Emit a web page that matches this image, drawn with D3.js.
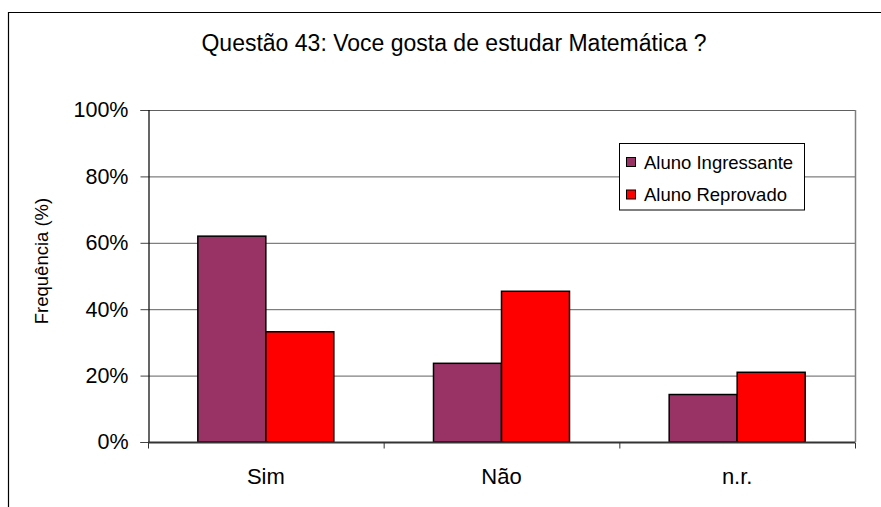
<!DOCTYPE html>
<html><head><meta charset="utf-8">
<script src="https://cdn.jsdelivr.net/npm/d3@7"></script>
<style>body{margin:0;background:#fff}svg{display:block}text{font-family:"Liberation Sans",Arial,sans-serif;fill:#000}</style>
</head><body>
<svg id="c" width="881" height="507"></svg>
<script>
const categories = ["Sim", "Não", "n.r."];
const seriesNames = ["Aluno Ingressante", "Aluno Reprovado"];
const ingressante = [62.0, 23.7, 14.3];
const reprovado = [33.2, 45.4, 21.0];
const yTicks = [0, 20, 40, 60, 80, 100];
const colors = ["#993366", "#FF0000"];
const title = "Questão 43: Voce gosta de estudar Matemática ?";
const yLabel = "Frequência (%)";

const series = [ingressante, reprovado];
const svg = d3.select("#c");
const W = 881, H = 507;
const L = 148, R = 855, T = 110, B = 442;

// outer chart border (top and left visible)
svg.append("path").attr("d", `M8.5,${H} V12.5 H${W}`).attr("fill","none").attr("stroke","#000").attr("stroke-width",1.2);

const x0 = d3.scaleBand().domain(categories).range([L, R]).padding(0);
const x1 = d3.scaleBand().domain(seriesNames).range([0, x0.bandwidth()]).paddingInner(0).paddingOuter(0.733);
const y = d3.scaleLinear().domain([0, 100]).range([B, T]);

// gridlines
svg.append("g").selectAll("line").data(yTicks.filter(d=>d>0)).join("line")
  .attr("x1", L).attr("x2", R).attr("y1", d=>y(d)+0.5).attr("y2", d=>y(d)+0.5)
  .attr("stroke", "#606060").attr("stroke-width", 1);
// plot right border
svg.append("line").attr("x1", R+0.5).attr("x2", R+0.5).attr("y1", T).attr("y2", B)
  .attr("stroke", "#808080").attr("stroke-width", 1.5);

// bars
const groups = svg.append("g").selectAll("g").data(categories).join("g")
  .attr("transform", d => `translate(${x0(d)},0)`);
groups.selectAll("rect").data((c, i) => seriesNames.map((s, j) => ({s, v: series[j][i], j})))
  .join("rect")
  .attr("x", d => x1(d.s)).attr("width", x1.bandwidth())
  .attr("y", d => y(d.v)).attr("height", d => B - y(d.v))
  .attr("fill", d => colors[d.j]).attr("stroke", "#000").attr("stroke-width", 1.5);

// y axis
const yAxis = d3.axisLeft(y).tickValues(yTicks).tickFormat(d => d + "%").tickSize(8).tickPadding(12);
const ya = svg.append("g").attr("transform", `translate(${L+0.5},0)`).call(yAxis);
ya.select(".domain").attr("stroke", "#000").attr("stroke-width", 1.2);
ya.selectAll(".tick line").attr("stroke", "#444");
ya.selectAll("text").attr("font-size", 21.5).attr("font-family", '"Liberation Sans",Arial,sans-serif');

// x axis
const xa = svg.append("g").attr("transform", `translate(0,${B+0.5})`);
xa.append("line").attr("x1", L).attr("x2", R).attr("stroke", "#333").attr("stroke-width", 2);
const bounds = categories.map(c => x0(c)).concat([R]);
xa.selectAll("line.tk").data(bounds).join("line").attr("class","tk")
  .attr("x1", d=>d+0.5).attr("x2", d=>d+0.5).attr("y1", 0).attr("y2", 6).attr("stroke", "#333");
xa.selectAll("text").data(categories).join("text")
  .attr("x", d => x0(d) + x0.bandwidth()/2).attr("y", 41)
  .attr("text-anchor", "middle").attr("font-size", 22).text(d => d);

// title
svg.append("text").attr("x", 454).attr("y", 51).attr("text-anchor", "middle")
  .attr("font-size", 23).text(title);

// y label
svg.append("text").attr("transform", "translate(48,261) rotate(-90)")
  .attr("text-anchor", "middle").attr("font-size", 18.5).text(yLabel);

// legend
const lg = svg.append("g");
lg.append("rect").attr("x", 619.5).attr("y", 143.5).attr("width", 185).attr("height", 66.5)
  .attr("fill", "#fff").attr("stroke", "#000").attr("stroke-width", 1);
seriesNames.forEach((s, i) => {
  const cy = 162 + i * 32.5;
  lg.append("rect").attr("x", 626.5).attr("y", cy - 4.5).attr("width", 9).attr("height", 9)
    .attr("fill", colors[i]).attr("stroke", "#000").attr("stroke-width", 1);
  lg.append("text").attr("x", 644).attr("y", cy + 6.5).attr("font-size", 18.5).text(s);
});
</script>
</body></html>
